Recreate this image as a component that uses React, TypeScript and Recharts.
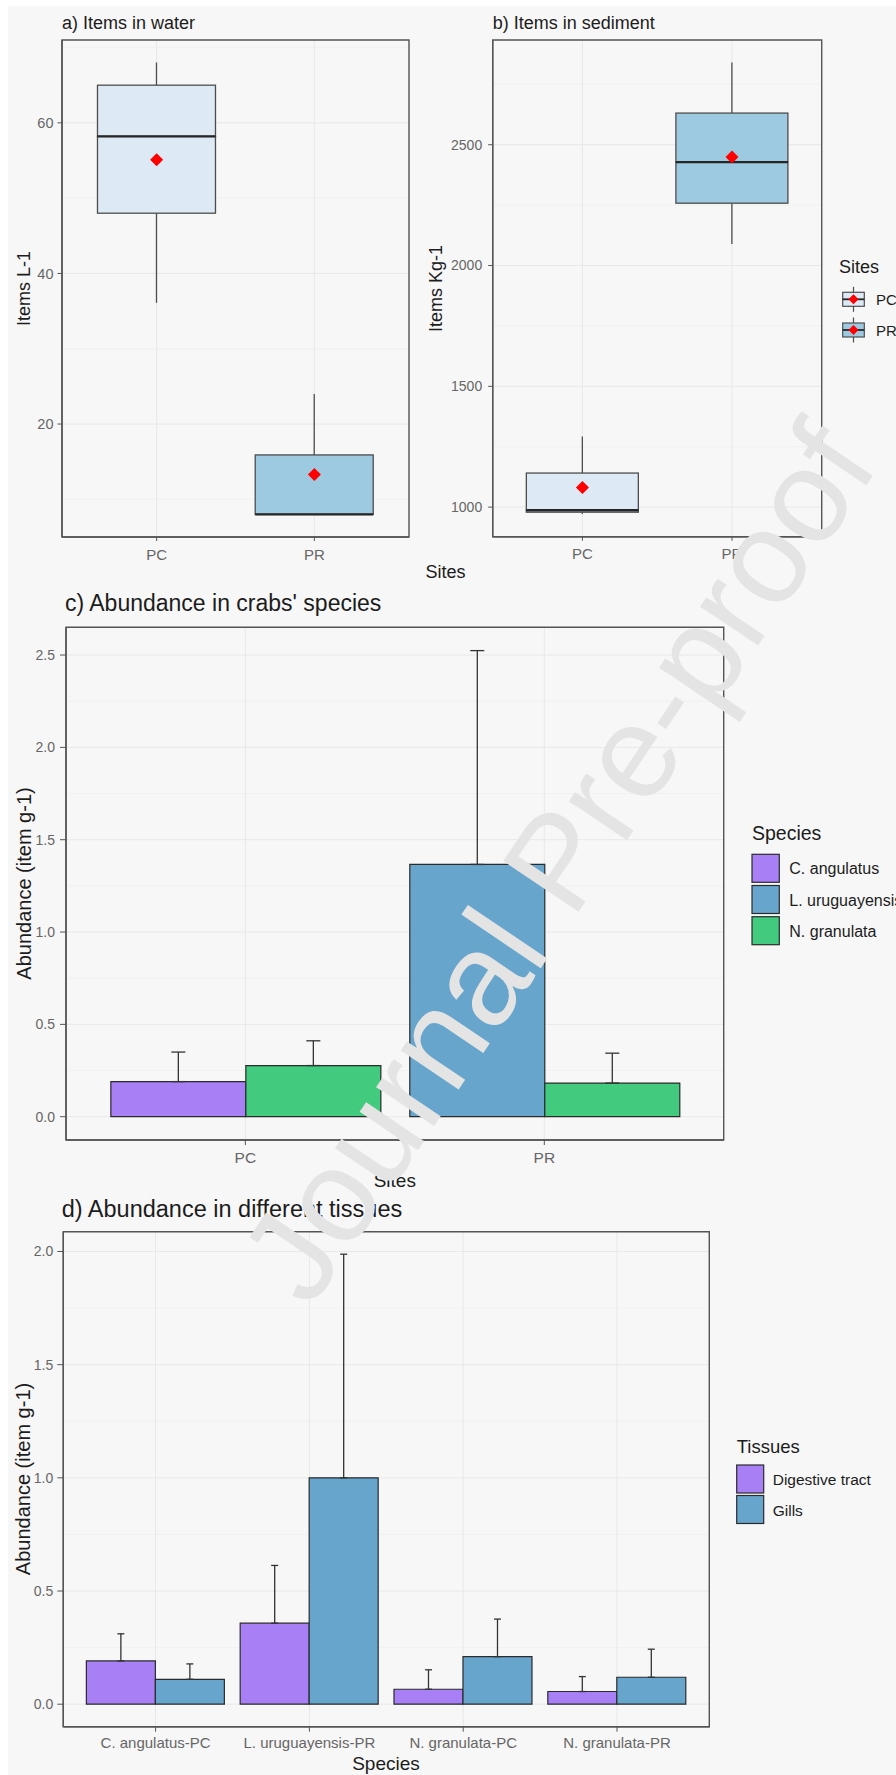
import React from 'react';
import {
  ComposedChart,
  Bar,
  Line,
  XAxis,
  YAxis,
  CartesianGrid,
  ReferenceArea,
  ErrorBar,
  Cell,
} from 'recharts';

const FONT = "'Liberation Sans', Arial, Helvetica, sans-serif";

// ---------- a) Items in water (Items L-1) ----------
const sites = ['PC', 'PR'];
const waterMin = [36.1, 8.0];
const waterQ1 = [48.0, 8.0];
const waterMedian = [58.2, 8.0];
const waterQ3 = [65.0, 15.9];
const waterMax = [68.0, 24.0];
const waterMean = [55.1, 13.3];
const waterTicks = [20, 40, 60];
const waterMinorTicks = [10, 30, 50, 70];

// ---------- b) Items in sediment (Items Kg-1) ----------
const sedMin = [971, 2089];
const sedQ1 = [979, 2258];
const sedMedian = [987, 2428];
const sedQ3 = [1141, 2631];
const sedMax = [1292, 2840];
const sedMean = [1081, 2449];
const sedTicks = [1000, 1500, 2000, 2500];
const sedMinorTicks = [1250, 1750, 2250, 2750];
const siteFills = ['#dde9f5', '#9ecae1'];

// ---------- c) Abundance in crabs' species ----------
const species = ['C. angulatus', 'L. uruguayensis', 'N. granulata'];
const speciesColors = ['#a87ff5', '#67a5cc', '#42cb7e'];
const crabSites = ['PC', 'PR'];
const cAngulatus = [0.19, null];
const cAngulatusSd = [0.16, null];
const lUruguayensis = [null, 1.366];
const lUruguayensisSd = [null, 1.158];
const nGranulata = [0.277, 0.182];
const nGranulataSd = [0.134, 0.162];
const crabTicks = [0, 0.5, 1, 1.5, 2, 2.5];
const crabMinorTicks = [0.25, 0.75, 1.25, 1.75, 2.25];

// ---------- d) Abundance in different tissues ----------
const tissueGroups = ['C. angulatus-PC', 'L. uruguayensis-PR', 'N. granulata-PC', 'N. granulata-PR'];
const tissues = ['Digestive tract', 'Gills'];
const tissueColors = ['#a87ff5', '#67a5cc'];
const digestive = [0.191, 0.358, 0.066, 0.056];
const digestiveSd = [0.12, 0.255, 0.086, 0.066];
const gills = [0.11, 1.0, 0.21, 0.119];
const gillsSd = [0.068, 0.988, 0.166, 0.124];
const tissueTicks = [0, 0.5, 1, 1.5, 2];
const tissueMinorTicks = [0.25, 0.75, 1.25, 1.75];

// ---------- helpers ----------
const expandDomain = (lo: number, hi: number): [number, number] => {
  const r = hi - lo;
  return [lo - 0.05 * r, hi + 0.05 * r];
};
// discrete axis like ggplot: positions 1..n, expanded by 0.6 on each side
const discreteDomain = (n: number): [number, number] => [0.4, n + 0.6];
const positions = (n: number) => Array.from({ length: n }, (_, i) => i + 1);

const buildBoxRows = (
  mins: number[], q1s: number[], meds: number[], q3s: number[], maxs: number[], means: number[]
) =>
  sites.map((s, i) => ({
    pos: i + 1,
    site: s,
    fill: siteFills[i],
    base: mins[i],
    lowWhisker: q1s[i] - mins[i],
    lowBox: meds[i] - q1s[i],
    highBox: q3s[i] - meds[i],
    highWhisker: maxs[i] - q3s[i],
    mean: means[i],
  }));

const waterRows = buildBoxRows(waterMin, waterQ1, waterMedian, waterQ3, waterMax, waterMean);
const sedRows = buildBoxRows(sedMin, sedQ1, sedMedian, sedQ3, sedMax, sedMean);
const waterDomain = expandDomain(Math.min(...waterMin), Math.max(...waterMax));
const sedDomain = expandDomain(Math.min(...sedMin), Math.max(...sedMax));

const crabRows = crabSites.map((s, i) => {
  const useFirst = cAngulatus[i] != null;
  return {
    pos: i + 1,
    site: s,
    left: useFirst ? cAngulatus[i] : lUruguayensis[i],
    leftErr: [0, useFirst ? cAngulatusSd[i] : lUruguayensisSd[i]],
    leftFill: useFirst ? speciesColors[0] : speciesColors[1],
    right: nGranulata[i],
    rightErr: [0, nGranulataSd[i]],
    rightFill: speciesColors[2],
  };
});
const crabTop = Math.max(
  ...crabRows.map((r) => (r.left as number) + (r.leftErr[1] as number)),
  ...crabRows.map((r) => (r.right as number) + (r.rightErr[1] as number))
);
const crabDomain = expandDomain(0, crabTop);

const tissueRows = tissueGroups.map((g, i) => ({
  pos: i + 1,
  group: g,
  digestive: digestive[i],
  digestiveErr: [0, digestiveSd[i]],
  gills: gills[i],
  gillsErr: [0, gillsSd[i]],
}));
const tissueTop = Math.max(...digestive.map((v, i) => v + digestiveSd[i]), ...gills.map((v, i) => v + gillsSd[i]));
const tissueDomain = expandDomain(0, tissueTop);

// ---------- styles ----------
const FRAME_STROKE = '#555555';
const FRAME_W = 1.4;
const FRAME = { stroke: FRAME_STROKE, strokeWidth: FRAME_W };
const TICKLINE = { stroke: '#555555', strokeWidth: 1 };
const GRID_MAJOR = '#e8e8e8';
const GRID_MINOR = '#efefef';
const TICK_FILL = '#666666';
const BOX_STROKE = '#4d4d4d';
const TEXT = '#1c1c1c';

// ---------- shapes ----------
const EmptyShape = () => <g />;
const WhiskerShape = (p: any) => {
  const cx = p.x + p.width / 2;
  return <line x1={cx} x2={cx} y1={p.y} y2={p.y + p.height} stroke={BOX_STROKE} strokeWidth={1.3} />;
};
const LowBoxShape = (p: any) => (
  <rect x={p.x} y={p.y} width={p.width} height={Math.max(p.height, 0)} fill={p.payload.fill} stroke={BOX_STROKE} strokeWidth={1.3} />
);
const HighBoxShape = (p: any) => (
  <g>
    <rect x={p.x} y={p.y} width={p.width} height={Math.max(p.height, 0)} fill={p.payload.fill} stroke={BOX_STROKE} strokeWidth={1.3} />
    <line x1={p.x} x2={p.x + p.width} y1={p.y + p.height} y2={p.y + p.height} stroke="#262626" strokeWidth={2.4} />
  </g>
);
const MeanDot = (p: any) => {
  const { cx, cy, index } = p;
  if (cx == null || cy == null) return <g key={`m${index}`} />;
  const r = 6.5;
  return <path key={`m${index}`} d={`M${cx},${cy - r}L${cx + r},${cy}L${cx},${cy + r}L${cx - r},${cy}Z`} fill="#ff0000" />;
};

// ---------- panels ----------
type PanelFrameProps = {
  rows: any[];
  labels: string[];
  domain: [number, number];
  ticks: number[];
  minor: number[];
  left: number;
  top: number;
  width: number;
  height: number;
  yAxisWidth: number;
  marginTop: number;
  marginRight: number;
  xAxisHeight: number;
  barCategoryGap: string;
  xTickFont: number;
  xTickMargin: number;
  xTickSize: number;
  yTickFont: number;
  yTickSize: number;
  yTickMargin: number;
  yFormat?: (v: number) => string;
  children: React.ReactNode;
};

function Panel(props: PanelFrameProps) {
  const {
    rows, labels, domain, ticks, minor, left, top, width, height, yAxisWidth, marginTop, marginRight,
    xAxisHeight, barCategoryGap, xTickFont, xTickMargin, xTickSize, yTickFont, yTickSize, yTickMargin, yFormat,
  } = props;
  const xDomain = discreteDomain(labels.length);
  return (
    <div style={{ position: 'absolute', left, top, width, height }}>
      <ComposedChart
        width={width}
        height={height}
        data={rows}
        margin={{ top: marginTop, right: marginRight, left: 0, bottom: 0 }}
        barCategoryGap={barCategoryGap}
        barGap={0}
      >
        <CartesianGrid horizontalValues={minor} vertical={false} stroke={GRID_MINOR} strokeWidth={0.8} />
        <CartesianGrid stroke={GRID_MAJOR} strokeWidth={1} />
        <XAxis
          dataKey="pos"
          type="number"
          domain={xDomain}
          ticks={positions(labels.length)}
          tickFormatter={(v: number) => labels[Math.round(v) - 1] ?? ''}
          height={xAxisHeight}
          tickSize={xTickSize}
          tickMargin={xTickMargin}
          interval={0}
          tick={{ fontSize: xTickFont, fill: TICK_FILL, fontFamily: FONT }}
          axisLine={FRAME}
          tickLine={TICKLINE}
        />
        <YAxis
          type="number"
          domain={domain}
          allowDataOverflow
          ticks={ticks}
          interval={0}
          width={yAxisWidth}
          tickSize={yTickSize}
          tickMargin={yTickMargin}
          tickFormatter={yFormat}
          tick={{ fontSize: yTickFont, fill: TICK_FILL, fontFamily: FONT }}
          axisLine={FRAME}
          tickLine={TICKLINE}
        />
        {props.children}
        <ReferenceArea
          x1={xDomain[0]}
          x2={xDomain[1]}
          y1={domain[0]}
          y2={domain[1]}
          fill="none"
          fillOpacity={0}
          stroke={FRAME_STROKE}
          strokeWidth={FRAME_W}
          ifOverflow="visible"
        />
      </ComposedChart>
    </div>
  );
}

const BAR_STROKE = '#2b2b2b';
const ERR_STROKE = '#333333';

function boxSeries() {
  return [
    <Bar key="b0" dataKey="base" stackId="box" shape={EmptyShape} isAnimationActive={false} />,
    <Bar key="b1" dataKey="lowWhisker" stackId="box" shape={WhiskerShape} isAnimationActive={false} />,
    <Bar key="b2" dataKey="lowBox" stackId="box" shape={LowBoxShape} isAnimationActive={false} />,
    <Bar key="b3" dataKey="highBox" stackId="box" shape={HighBoxShape} isAnimationActive={false} />,
    <Bar key="b4" dataKey="highWhisker" stackId="box" shape={WhiskerShape} isAnimationActive={false} />,
    <Line key="m" dataKey="mean" stroke="none" dot={MeanDot} activeDot={false} isAnimationActive={false} />,
  ];
}

function LegendKeyBox({ cx, cy, fill }: { cx: number; cy: number; fill: string }) {
  const w = 21.6;
  const h = 14;
  const r = 5;
  return (
    <g>
      <line x1={cx} x2={cx} y1={cy - 12.5} y2={cy + 12.5} stroke={BOX_STROKE} strokeWidth={1.2} />
      <rect x={cx - w / 2} y={cy - h / 2} width={w} height={h} fill={fill} stroke={BOX_STROKE} strokeWidth={1.2} />
      <line x1={cx - w / 2} x2={cx + w / 2} y1={cy} y2={cy} stroke="#262626" strokeWidth={1.8} />
      <path d={`M${cx},${cy - r}L${cx + r},${cy}L${cx},${cy + r}L${cx - r},${cy}Z`} fill="#ff0000" />
    </g>
  );
}

const fmt1 = (v: number) => v.toFixed(1);
const fmt0 = (v: number) => String(v);

export default function App() {
  return (
    <div style={{ position: 'absolute', left: 0, top: 0, width: 896, height: 1775, overflow: 'hidden', background: '#ffffff', fontFamily: FONT }}>
      <div style={{ position: 'absolute', left: 8, top: 6, width: 888, height: 1769, background: '#f7f7f7' }} />

      {/* a) water */}
      <Panel
        rows={waterRows}
        labels={sites}
        domain={waterDomain}
        ticks={waterTicks}
        minor={waterMinorTicks}
        left={8}
        top={8}
        width={432}
        height={582}
        yAxisWidth={54}
        marginTop={32}
        marginRight={31}
        xAxisHeight={53}
        barCategoryGap="12.5%"
        xTickFont={15}
        xTickSize={4}
        xTickMargin={8}
        yTickFont={14.5}
        yTickSize={4.5}
        yTickMargin={4}
        yFormat={fmt0}
      >
        {boxSeries()}
      </Panel>

      {/* b) sediment */}
      <Panel
        rows={sedRows}
        labels={sites}
        domain={sedDomain}
        ticks={sedTicks}
        minor={sedMinorTicks}
        left={440}
        top={8}
        width={440}
        height={582}
        yAxisWidth={52.7}
        marginTop={32}
        marginRight={58.3}
        xAxisHeight={53.3}
        barCategoryGap="12.5%"
        xTickFont={15}
        xTickSize={4}
        xTickMargin={8}
        yTickFont={14}
        yTickSize={4.5}
        yTickMargin={6}
        yFormat={fmt0}
      >
        {boxSeries()}
      </Panel>

      {/* c) crabs' species */}
      <Panel
        rows={crabRows}
        labels={crabSites}
        domain={crabDomain}
        ticks={crabTicks}
        minor={crabMinorTicks}
        left={8}
        top={598}
        width={872}
        height={597}
        yAxisWidth={58}
        marginTop={29.3}
        marginRight={156.3}
        xAxisHeight={55}
        barCategoryGap="5%"
        xTickFont={15.5}
        xTickSize={5}
        xTickMargin={7}
        yTickFont={14}
        yTickSize={6}
        yTickMargin={5}
        yFormat={fmt1}
      >
        <Bar dataKey="left" stroke={BAR_STROKE} strokeWidth={1.2} isAnimationActive={false}>
          {crabRows.map((r, i) => (
            <Cell key={`l${i}`} fill={r.leftFill} />
          ))}
          <ErrorBar dataKey="leftErr" direction="y" width={7} stroke={ERR_STROKE} strokeWidth={1.3} />
        </Bar>
        <Bar dataKey="right" stroke={BAR_STROKE} strokeWidth={1.2} isAnimationActive={false}>
          {crabRows.map((r, i) => (
            <Cell key={`r${i}`} fill={r.rightFill} />
          ))}
          <ErrorBar dataKey="rightErr" direction="y" width={7} stroke={ERR_STROKE} strokeWidth={1.3} />
        </Bar>
      </Panel>

      {/* d) tissues */}
      <Panel
        rows={tissueRows}
        labels={tissueGroups}
        domain={tissueDomain}
        ticks={tissueTicks}
        minor={tissueMinorTicks}
        left={8}
        top={1200}
        width={872}
        height={575}
        yAxisWidth={55.3}
        marginTop={31.7}
        marginRight={170.7}
        xAxisHeight={48.3}
        barCategoryGap="5%"
        xTickFont={15}
        xTickSize={5}
        xTickMargin={6}
        yTickFont={14}
        yTickSize={6}
        yTickMargin={4}
        yFormat={fmt1}
      >
        <Bar dataKey="digestive" fill={tissueColors[0]} stroke={BAR_STROKE} strokeWidth={1.2} isAnimationActive={false}>
          <ErrorBar dataKey="digestiveErr" direction="y" width={3.5} stroke={ERR_STROKE} strokeWidth={1.3} />
        </Bar>
        <Bar dataKey="gills" fill={tissueColors[1]} stroke={BAR_STROKE} strokeWidth={1.2} isAnimationActive={false}>
          <ErrorBar dataKey="gillsErr" direction="y" width={3.5} stroke={ERR_STROKE} strokeWidth={1.3} />
        </Bar>
      </Panel>

      {/* text overlay: titles, axis titles, legends, watermark */}
      <svg width={896} height={1775} style={{ position: 'absolute', left: 0, top: 0, pointerEvents: 'none' }} fontFamily={FONT}>
        {/* a/b titles */}
        <text x={62} y={28.5} fontSize={18} fill={TEXT}>a) Items in water</text>
        <text x={492.7} y={28.5} fontSize={18} fill={TEXT}>b) Items in sediment</text>
        <text transform="translate(29.5,288.5) rotate(-90)" textAnchor="middle" fontSize={18} fill={TEXT}>Items L-1</text>
        <text transform="translate(441.5,288.5) rotate(-90)" textAnchor="middle" fontSize={18} fill={TEXT}>Items Kg-1</text>
        <text x={445.5} y={578} textAnchor="middle" fontSize={18} fill={TEXT}>Sites</text>

        {/* legend b */}
        <text x={839} y={273} fontSize={18} fill={TEXT}>Sites</text>
        {sites.map((s, i) => (
          <g key={s}>
            <LegendKeyBox cx={853.5} cy={299.3 + i * 30.7} fill={siteFills[i]} />
            <text x={876} y={299.3 + i * 30.7 + 6} fontSize={15} fill={TEXT}>{s}</text>
          </g>
        ))}

        {/* c titles */}
        <text x={65} y={611} fontSize={23} fill={TEXT}>c) Abundance in crabs' species</text>
        <text transform="translate(31,883.5) rotate(-90)" textAnchor="middle" fontSize={20} fill={TEXT}>Abundance (item g-1)</text>
        <text x={394.8} y={1187} textAnchor="middle" fontSize={19} fill={TEXT}>Sites</text>
        <text x={752} y={840} fontSize={19.5} fill={TEXT}>Species</text>
        {species.map((s, i) => (
          <g key={s}>
            <rect x={752} y={854.3 + i * 31.2} width={27.3} height={28} fill={speciesColors[i]} stroke={BAR_STROKE} strokeWidth={1.2} />
            <text x={789.3} y={854.3 + i * 31.2 + 20} fontSize={16} fill={TEXT}>{s}</text>
          </g>
        ))}

        {/* d titles */}
        <text x={61.7} y={1217} fontSize={23.5} fill={TEXT}>d) Abundance in different tissues</text>
        <text transform="translate(30,1479) rotate(-90)" textAnchor="middle" fontSize={20} fill={TEXT}>Abundance (item g-1)</text>
        <text x={386} y={1769.5} textAnchor="middle" fontSize={19} fill={TEXT}>Species</text>
        <text x={736.7} y={1453} fontSize={18.5} fill={TEXT}>Tissues</text>
        {tissues.map((t, i) => (
          <g key={t}>
            <rect x={736.7} y={1465 + i * 30.5} width={27} height={28} fill={tissueColors[i]} stroke={BAR_STROKE} strokeWidth={1.2} />
            <text x={772.7} y={1465 + i * 30.5 + 20} fontSize={15.5} fill={TEXT}>{t}</text>
          </g>
        ))}

        {/* watermark */}
        <text x={310} y={1310} fontSize={132} fill="#e4e4e4" transform="rotate(-56 310 1310)">Journal Pre-proof</text>
      </svg>
    </div>
  );
}
